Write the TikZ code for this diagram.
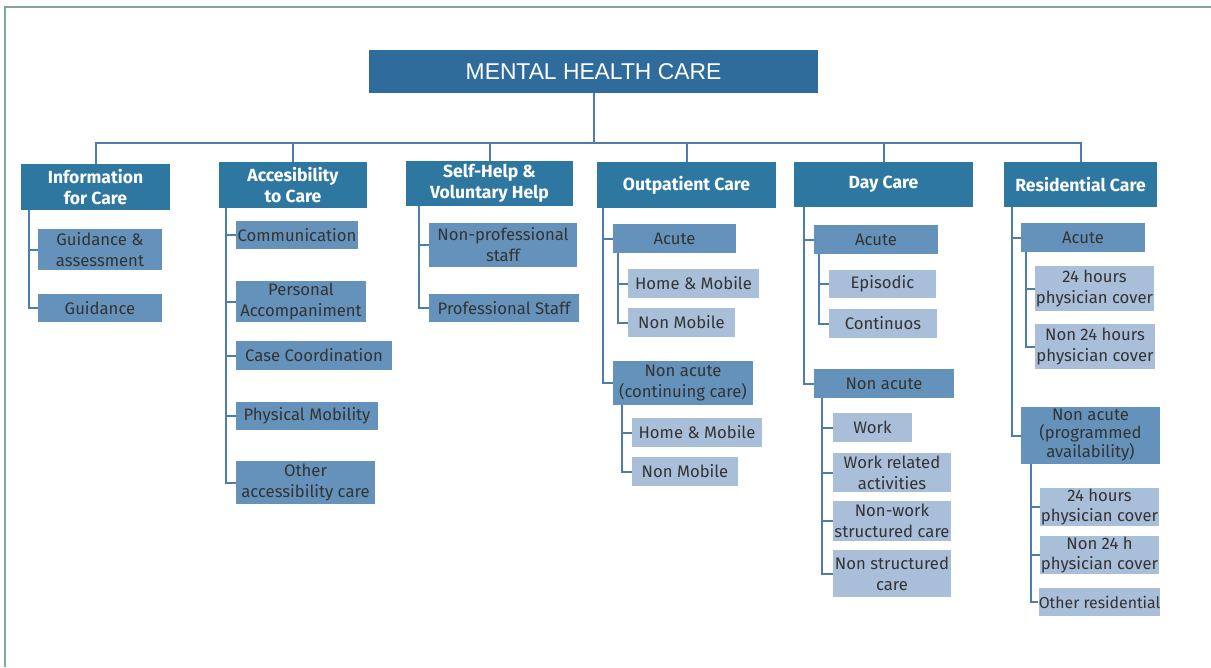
\documentclass[tikz,border=0pt]{standalone}
\usepackage{fontspec}
\setmainfont{Fira Sans}
\newfontfamily\titlefont{Liberation Sans}
\usepackage{tikz}

\definecolor{titleblue}{HTML}{306C9B}
\definecolor{catblue}{HTML}{2E77A1}
\definecolor{subblue}{HTML}{6592BA}
\definecolor{leafblue}{HTML}{A9BED9}
\definecolor{linkblue}{HTML}{4D7DA8}
\definecolor{framegreen}{HTML}{80A89A}
\definecolor{textgray}{HTML}{333333}

\tikzset{
  sz/.style 2 args={minimum width=#1*0.02cm, minimum height=#2*0.02cm},
  headbox/.style={fill=titleblue, text=white, inner sep=0pt, font=\titlefont\fontsize{13}{15}\selectfont},
  catbox/.style={fill=catblue, text=white, inner sep=0pt, align=center, font=\bfseries\fontsize{10}{12}\selectfont},
  subbox/.style={fill=subblue, text=textgray, inner sep=0pt, align=center, font=\fontsize{9.5}{12}\selectfont},
  leafbox/.style={fill=leafblue, text=textgray, inner sep=0pt, align=center, font=\fontsize{9.5}{12}\selectfont},
  link/.style={draw=linkblue, line width=0.04cm}
}

\begin{document}
\begin{tikzpicture}[x=0.02cm, y=-0.02cm]
        \useasboundingbox (0,0) rectangle (1211,667);
        \draw[framegreen, line width=0.04cm] (5,667) -- (5,7) -- (1211,7);
        % title and main categories
        \node[headbox, sz={449}{43}] (mhc) at (593.5,71.5) {MENTAL HEALTH CARE};
        \node[catbox, sz={149}{46}] (info) at (95.5,187) {Information\\for Care};
        \node[catbox, sz={148}{46}] (access) at (293,185) {Accesibility\\to Care};
        \node[catbox, sz={167}{45}] (selfhelp) at (489.5,183.5) {Self-Help \&\\Voluntary Help};
        \node[catbox, sz={179}{46}] (outpat) at (686.5,185) {Outpatient Care};
        \node[catbox, sz={179}{45}] (day) at (883.5,184.5) {Day Care};
        \node[catbox, sz={153}{45}] (resid) at (1080.5,184.5) {Residential Care};
        \coordinate (bus) at (597,143);
        \draw[link] (mhc.south) -- (mhc.south |- bus);
        \foreach \cat in {info,access,selfhelp,outpat,day,resid}
            \draw[link] (mhc.south |- bus) -| (\cat.north);
        % information for care
        \node[subbox, sz={124}{41}] (info-guid) at (100,249.5) {Guidance \&\\assessment};
        \node[subbox, sz={124}{28}] (info-guidance) at (100,308) {Guidance};
        \foreach \sub in {info-guid,info-guidance}
            \draw[link] (info.south west) ++(8,0) |- (\sub.west);
        % accessibility to care
        \node[subbox, sz={122}{28}] (acc-comm) at (297,235) {Communication};
        \node[subbox, sz={130}{41}] (acc-pers) at (301,301.5) {Personal\\Accompaniment};
        \node[subbox, sz={156}{29}] (acc-case) at (314,355.5) {Case Coordination};
        \node[subbox, sz={142}{28}] (acc-phys) at (307,416) {Physical Mobility};
        \node[subbox, sz={139}{43}] (acc-other) at (305.5,482.5) {Other\\accessibility care};
        \foreach \sub in {acc-comm,acc-pers,acc-case,acc-phys,acc-other}
            \draw[link] (access.south west) ++(7,0) |- (\sub.west);
        % self-help
        \node[subbox, sz={148}{44}] (sh-nonprof) at (503,245) {Non-professional\\staff};
        \node[subbox, sz={150}{28}] (sh-prof) at (504,308) {Professional Staff};
        \foreach \sub in {sh-nonprof,sh-prof}
            \draw[link] (selfhelp.south west) ++(13,0) |- (\sub.west);
        % outpatient care
        \node[subbox, sz={123}{29}] (op-acute) at (674.5,238.5) {Acute};
        \node[leafbox, sz={131}{29}] (op-ac-home) at (693.5,283.5) {Home \& Mobile};
        \node[leafbox, sz={107}{29}] (op-ac-non) at (681.5,322.5) {Non Mobile};
        \node[subbox, sz={140}{44}] (op-nonac) at (683,383) {Non acute\\(continuing care)};
        \node[leafbox, sz={130}{29}] (op-na-home) at (697,432.5) {Home \& Mobile};
        \node[leafbox, sz={106}{29}] (op-na-non) at (685,471.5) {Non Mobile};
        \foreach \sub in {op-acute,op-nonac}
            \draw[link] (outpat.south west) ++(6,0) |- (\sub.west);
        \foreach \sub in {op-ac-home,op-ac-non}
            \draw[link] (op-acute.south west) ++(5,0) |- (\sub.west);
        \foreach \sub in {op-na-home,op-na-non}
            \draw[link] (op-nonac.south west) ++(9,0) |- (\sub.west);
        % day care
        \node[subbox, sz={124}{29}] (dc-acute) at (876,239.5) {Acute};
        \node[leafbox, sz={107}{28}] (dc-epis) at (882.5,284) {Episodic};
        \node[leafbox, sz={108}{29}] (dc-cont) at (883,323.5) {Continuos};
        \node[subbox, sz={140}{29}] (dc-nonac) at (884,383.5) {Non acute};
        \node[leafbox, sz={79}{29}] (dc-work) at (872.5,427.5) {Work};
        \node[leafbox, sz={118}{39}] (dc-workrel) at (892,472.5) {Work related\\activities};
        \node[leafbox, sz={118}{40}] (dc-nonwork) at (892,521) {Non-work\\structured care};
        \node[leafbox, sz={118}{47}] (dc-nonstruct) at (892,573.5) {Non structured\\care};
        \foreach \sub in {dc-acute,dc-nonac}
            \draw[link] (day.south west) ++(10,0) |- (\sub.west);
        \foreach \sub in {dc-epis,dc-cont}
            \draw[link] (dc-acute.south west) ++(5,0) |- (\sub.west);
        \foreach \sub in {dc-work,dc-workrel,dc-nonwork,dc-nonstruct}
            \draw[link] (dc-nonac.south west) ++(8,0) |- (\sub.west);
        % residential care
        \node[subbox, sz={124}{29}] (rc-acute) at (1083,237.5) {Acute};
        \node[leafbox, sz={119}{45}] (rc-ac-24) at (1094.5,288.5) {24 hours\\physician cover};
        \node[leafbox, sz={120}{45}] (rc-ac-non24) at (1095,346.5) {Non 24 hours\\physician cover};
        \node[subbox, sz={139}{57}, font=\fontsize{9.5}{10}\selectfont] (rc-nonac) at (1090.5,435.5) {Non acute\\(programmed\\availability)};
        \node[leafbox, sz={119}{38}, font=\fontsize{9.5}{11}\selectfont] (rc-na-24) at (1099.5,507) {24 hours\\physician cover};
        \node[leafbox, sz={119}{38}, font=\fontsize{9.5}{11}\selectfont] (rc-na-non24) at (1099.5,555) {Non 24 h\\physician cover};
        \node[leafbox, sz={119}{28}, font=\fontsize{9}{11}\selectfont] (rc-other) at (1099.5,602) {Other residential};
        \foreach \sub in {rc-acute,rc-nonac}
            \draw[link] (resid.south west) ++(8,0) |- (\sub.west);
        \foreach \sub in {rc-ac-24,rc-ac-non24}
            \draw[link] (rc-acute.south west) ++(5,0) |- (\sub.west);
        \foreach \sub in {rc-na-24,rc-na-non24,rc-other}
            \draw[link] (rc-nonac.south west) ++(10,0) |- (\sub.west);
    \end{tikzpicture}
\end{document}
